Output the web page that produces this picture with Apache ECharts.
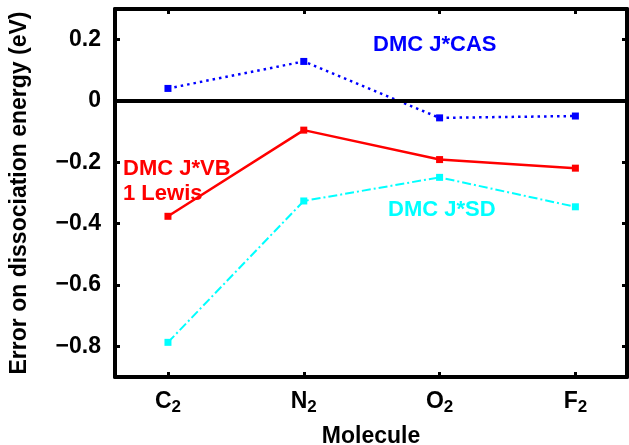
<!DOCTYPE html>
<html>
<head>
<meta charset="utf-8">
<script src="https://cdn.jsdelivr.net/npm/echarts@6/dist/echarts.min.js"></script>
<style>html,body{margin:0;padding:0;background:#fff}#c{width:629px;height:445px}</style>
</head>
<body>
<div id="c"></div>
<script>
// Data
const molecules = ['C', 'N', 'O', 'F'];           // subscript 2 added in labels
const moleculeX = [1, 2, 3, 4];
const yTicks = [-0.8, -0.6, -0.4, -0.2, 0, 0.2];
const jCAS = [0.041, 0.129, -0.055, -0.049];
const jVB = [-0.376, -0.095, -0.191, -0.219];
const jSD = [-0.787, -0.326, -0.249, -0.345];

const FONT = 'Liberation Sans';
const pairs = a => moleculeX.map((x, i) => [x, a[i]]);
const fmtY = v => (Math.abs(v) < 1e-9 ? '0' : v.toFixed(1).replace('-', '\u2212'));

const chart = echarts.init(document.getElementById('c'), null, {renderer: 'canvas'});
const tickStyle = {show: true, inside: true, length: 5, lineStyle: {color: '#000', width: 3}};
const axLine = {show: true, onZero: false, lineStyle: {color: '#000', width: 4}};

chart.setOption({
  animation: false,
  backgroundColor: '#fff',
  grid: {left: 115, top: 9, width: 512, height: 368, containLabel: false, outerBoundsMode: 'none'},
  xAxis: [{
    type: 'value', min: 0.61, max: 4.38, position: 'bottom',
    name: 'Molecule', nameLocation: 'middle', nameGap: 48,
    nameTextStyle: {fontFamily: FONT, fontWeight: 'bold', fontSize: 23, color: '#000'},
    axisLine: axLine,
    axisTick: Object.assign({customValues: moleculeX}, tickStyle),
    axisLabel: {
      customValues: moleculeX, margin: 11,
      formatter: v => '{b|' + molecules[Math.round(v) - 1] + '}{s|2}',
      rich: {
        b: {fontFamily: FONT, fontWeight: 'bold', fontSize: 23, color: '#000'},
        s: {fontFamily: FONT, fontWeight: 'bold', fontSize: 17, color: '#000', padding: [11, 0, 0, 0]}
      }
    },
    splitLine: {show: false}
  }, {
    type: 'value', min: 0.61, max: 4.38, position: 'top',
    axisLine: axLine,
    axisTick: Object.assign({customValues: moleculeX}, tickStyle),
    axisLabel: {show: false}, splitLine: {show: false}
  }],
  yAxis: [{
    type: 'value', min: -0.9, max: 0.3, position: 'left',
    name: 'Error on dissociation energy (eV)', nameLocation: 'middle', nameGap: 84,
    nameTextStyle: {fontFamily: FONT, fontWeight: 'bold', fontSize: 23, color: '#000'},
    axisLine: axLine,
    axisTick: Object.assign({customValues: yTicks}, tickStyle),
    axisLabel: {customValues: yTicks, margin: 14, formatter: fmtY,
      fontFamily: FONT, fontWeight: 'bold', fontSize: 23, color: '#000'},
    splitLine: {show: false}
  }, {
    type: 'value', min: -0.9, max: 0.3, position: 'right',
    axisLine: axLine,
    axisTick: Object.assign({customValues: yTicks}, tickStyle),
    axisLabel: {show: false}, splitLine: {show: false}
  }],
  series: [{
    name: 'DMC J*CAS', type: 'line', data: pairs(jCAS),
    symbol: 'rect', symbolSize: 7, itemStyle: {color: '#0000ff'},
    lineStyle: {color: '#0000ff', width: 2.5, type: [2.5, 4]},
    markLine: {silent: true, symbol: 'none', label: {show: false},
      lineStyle: {color: '#000', width: 4, type: 'solid'}, data: [{yAxis: 0}]},
    z: 3
  }, {
    name: 'DMC J*VB', type: 'line', data: pairs(jVB),
    symbol: 'rect', symbolSize: 7, itemStyle: {color: '#ff0000'},
    lineStyle: {color: '#ff0000', width: 2.5, type: 'solid'}, z: 3
  }, {
    name: 'DMC J*SD', type: 'line', data: pairs(jSD),
    symbol: 'rect', symbolSize: 7, itemStyle: {color: '#00ffff'},
    lineStyle: {color: '#00ffff', width: 2, type: [9, 3, 2, 3]}, z: 3
  }],
  graphic: [
    {type: 'text', left: 373, top: 34, style: {text: 'DMC J*CAS', fill: '#0000ff',
      font: 'bold 22px "Liberation Sans"'}},
    {type: 'text', left: 123, top: 156, style: {text: 'DMC J*VB\n1 Lewis', fill: '#ff0000',
      font: 'bold 22px "Liberation Sans"', lineHeight: 25}},
    {type: 'text', left: 388, top: 199, style: {text: 'DMC J*SD', fill: '#00ffff',
      font: 'bold 22px "Liberation Sans"'}}
  ]
});
</script>
</body>
</html>
